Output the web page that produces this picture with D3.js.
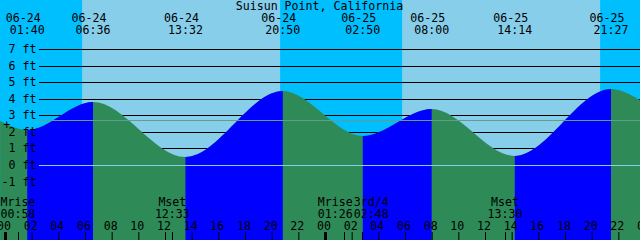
<!DOCTYPE html>
<html>
<head>
<meta charset="utf-8">
<script src="https://cdn.jsdelivr.net/npm/d3@7"></script>
<style>
  body { margin: 0; background: #fff; }
  svg { display: block; }
  text { font-family: "DejaVu Sans Mono", monospace; font-size: 11.6px; fill: #000; }
</style>
</head>
<body>
<div id="chart"></div>
<script>
// tide curve: chart edges plus the labelled highs / lows
const curveDays  = ["06-23", "06-24", "06-24", "06-24", "06-24", "06-25", "06-25", "06-25", "06-25", "06-25"];
const curveTimes = ["23:38", "01:40", "06:36", "13:32", "20:50", "02:50", "08:00", "14:14", "21:27", "23:38"];
const curveFeet  = [2.67, 2.13, 3.79, 0.47, 4.48, 1.77, 3.40, 0.52, 4.60, 3.90];

// sun
const sunDays    = ["06-24", "06-25"];
const sunrise    = ["05:47", "05:47"];
const sunset     = ["20:38", "20:38"];

// moon events
const moonDays   = ["06-24", "06-24", "06-25", "06-25", "06-25"];
const moonTimes  = ["00:58", "12:33", "01:26", "02:48", "13:30"];
const moonNames  = ["Mrise", "Mset", "Mrise", "3rd/4", "Mset"];

const feetTicks  = [-1, 0, 1, 2, 3, 4, 5, 6, 7];
const hourTicks  = d3.range(0, 49, 2);
const mslFeet    = 2.7;
const markFeet   = 2.4;
const title      = "Suisun Point, California";

const width = 640, height = 240;
const colors = { night: "#00BFFF", day: "#87CEEB", flood: "#0000FF", ebb: "#2E8B57",
                 msl: "#5F9F8C", datum: "#87CEEB" };

// hours since 06-24 00:00
const toHours = (day, time) => (+day.slice(3) - 24) * 24 + +time.slice(0, 2) + +time.slice(3) / 60;

const x = d3.scaleLinear().domain([0, 48]).range([5, 645]);
const y = d3.scaleLinear().domain([0, 7]).rangeRound([165, 49]);

const tide = curveDays.map((d, i) => ({ h: toHours(d, curveTimes[i]), ft: curveFeet[i], day: d, time: curveTimes[i] }));
const events = tide.slice(1, -1);

const svg = d3.select("#chart").append("svg")
  .attr("width", width)
  .attr("height", height);

// sky
svg.append("rect").attr("width", width).attr("height", height).attr("fill", colors.night);
svg.selectAll(".day")
  .data(sunDays)
  .enter().append("rect")
  .attr("class", "day")
  .attr("x", (d, i) => x(toHours(d, sunrise[i])))
  .attr("width", (d, i) => x(toHours(d, sunset[i])) - x(toHours(d, sunrise[i])))
  .attr("y", 0)
  .attr("height", height)
  .attr("fill", colors.day);

// grid lines (behind the water)
const grid = svg.append("g")
  .attr("transform", "translate(39,0)")
  .call(d3.axisLeft(y).tickValues(feetTicks).tickSize(-(width - 39)).tickFormat(""));
grid.select(".domain").remove();
grid.selectAll("line").attr("stroke", "#000");

// water
const area = d3.area()
  .x(d => x(d.h))
  .y0(height)
  .y1(d => y(d.ft))
  .curve(d3.curveMonotoneX);

svg.append("path")
  .datum(tide)
  .attr("fill", colors.ebb)
  .attr("d", area);

const defs = svg.append("defs");
tide.slice(0, -1).forEach((d, i) => {
  const next = tide[i + 1];
  if (next.ft <= d.ft) return;
  defs.append("clipPath").attr("id", `flood-${i}`)
    .append("rect")
    .attr("x", x(d.h))
    .attr("width", x(next.h) - x(d.h))
    .attr("y", 0)
    .attr("height", height);
  svg.append("path")
    .datum(tide)
    .attr("fill", colors.flood)
    .attr("clip-path", `url(#flood-${i})`)
    .attr("d", area);
});

// mean sea level and datum
svg.append("line")
  .attr("x1", 39).attr("x2", width)
  .attr("y1", y(mslFeet) + 0.5).attr("y2", y(mslFeet) + 0.5)
  .attr("stroke", colors.msl);
svg.append("line")
  .attr("x1", 39).attr("x2", width)
  .attr("y1", y(0) + 0.5).attr("y2", y(0) + 0.5)
  .attr("stroke", colors.datum);

// feet labels
const feetAxis = svg.append("g")
  .attr("transform", "translate(39,0)")
  .call(d3.axisLeft(y).tickValues(feetTicks).tickSize(0).tickPadding(2.5).tickFormat(d => d + " ft"));
feetAxis.select(".domain").remove();
feetAxis.attr("font-family", null).attr("font-size", null);
feetAxis.selectAll("text").attr("fill", null);

svg.append("text")
  .attr("x", 6.7)
  .attr("y", y(markFeet))
  .attr("dy", "0.35em")
  .attr("text-anchor", "middle")
  .text("+");

// title
svg.append("text")
  .attr("x", 319.5)
  .attr("y", 9.5)
  .attr("text-anchor", "middle")
  .text(title);

// high / low labels
const tideLabels = svg.selectAll(".tide-label")
  .data(events)
  .enter().append("g")
  .attr("class", "tide-label")
  .attr("transform", d => `translate(${x(d.h)},0)`);
tideLabels.append("text")
  .attr("x", -4)
  .attr("y", 21.5)
  .attr("text-anchor", "middle")
  .text(d => d.day);
tideLabels.append("text")
  .attr("y", 34)
  .attr("text-anchor", "middle")
  .text(d => d.time);

// hour axis along the bottom
const hourAxis = svg.append("g")
  .attr("transform", `translate(0,${height})`)
  .call(d3.axisTop(x).tickValues(hourTicks).tickSize(8).tickPadding(2)
    .tickFormat(h => String(h % 24).padStart(2, "0")));
hourAxis.select(".domain").remove();
hourAxis.attr("font-family", null).attr("font-size", null);
hourAxis.selectAll("text").attr("fill", null).attr("dx", -1.5);
hourAxis.selectAll("line")
  .attr("stroke", "#000")
  .attr("stroke-width", h => h % 24 === 0 ? 3 : 1);

// moon events
const moon = moonDays.map((d, i) => ({ h: toHours(d, moonTimes[i]), name: moonNames[i], time: moonTimes[i] }));
svg.selectAll(".moon-tick")
  .data(moon)
  .enter().append("line")
  .attr("class", "moon-tick")
  .attr("x1", d => Math.round(x(d.h)) + 0.5)
  .attr("x2", d => Math.round(x(d.h)) + 0.5)
  .attr("y1", height - 8)
  .attr("y2", height)
  .attr("stroke", "#000");

// push overlapping moon labels apart
const labelW = 36;
moon.forEach(d => { d.lx = x(d.h); });
for (let i = 1; i < moon.length; i++) {
  const gap = moon[i].lx - moon[i - 1].lx;
  if (gap < labelW) {
    const shift = (labelW - gap) / 2;
    moon[i - 1].lx -= shift;
    moon[i].lx += shift;
  }
}
const moonLabels = svg.selectAll(".moon-label")
  .data(moon)
  .enter().append("g")
  .attr("class", "moon-label")
  .attr("transform", d => `translate(${d.lx},0)`);
moonLabels.append("text")
  .attr("y", 206)
  .attr("text-anchor", "middle")
  .text(d => d.name);
moonLabels.append("text")
  .attr("y", 217.5)
  .attr("text-anchor", "middle")
  .text(d => d.time);
</script>
</body>
</html>
